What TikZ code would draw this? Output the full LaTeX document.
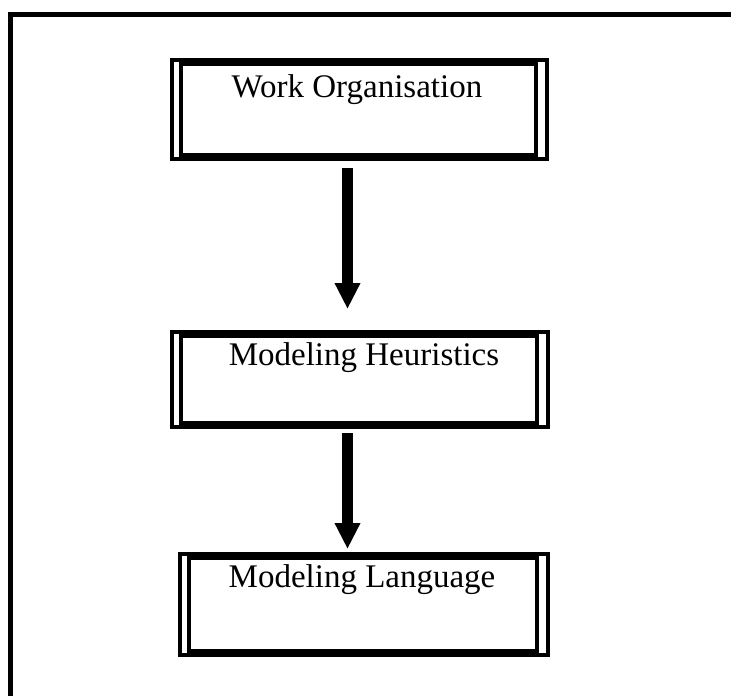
\documentclass[tikz,border=0pt]{standalone}
\usepackage{fontspec}
\setmainfont{Liberation Serif}
\usetikzlibrary{arrows.meta}
\begin{document}
\begin{tikzpicture}[x=1pt,y=-1pt,
  stagebox/.style={draw,line width=4pt,inner sep=0pt,outer sep=0pt},
  stageouter/.style={line width=4pt},
  stagetext/.style={anchor=base,inner sep=0pt,font=\fontsize{33}{40}\selectfont},
  flow/.style={line width=11pt,-{Triangle[width=24pt,length=26pt]}}]
  \useasboundingbox (0,0) rectangle (731,696);
  % page frame, open on the right and at the bottom
  \draw[line width=5pt] (10,700) -- (10,14.5) -- (735,14.5);

  % stages: thick inner frame plus a second frame, doubled at the sides only
  \node[stagebox,minimum width=355pt,minimum height=91pt] (wo) at (358.5,109.5) {};
  \node[stagebox,minimum width=356pt,minimum height=87pt] (mh) at (359,379.5) {};
  \node[stagebox,minimum width=348pt,minimum height=93pt] (ml) at (363,604.5) {};
  \foreach \b in {wo,mh,ml}
    \draw[stageouter] ([shift={(-9,-4)}]\b.north west) rectangle ([shift={(11,4)}]\b.south east);

  \node[stagetext] (two) at (357,97) {Work Organisation};
  \node[stagetext] (tmh) at (364,365) {Modeling Heuristics};
  \node[stagetext] (tml) at (362,587) {Modeling Language};

  % connectors
  \draw[flow,shorten <=13pt,shorten >=27pt] ([xshift=-11pt]wo.south) -- ([xshift=-11pt]wo.south |- mh.north);
  \draw[flow,shorten <=10pt,shorten >=9pt] ([xshift=-11.5pt]mh.south) -- ([xshift=-11.5pt]mh.south |- ml.north);
\end{tikzpicture}
\end{document}
